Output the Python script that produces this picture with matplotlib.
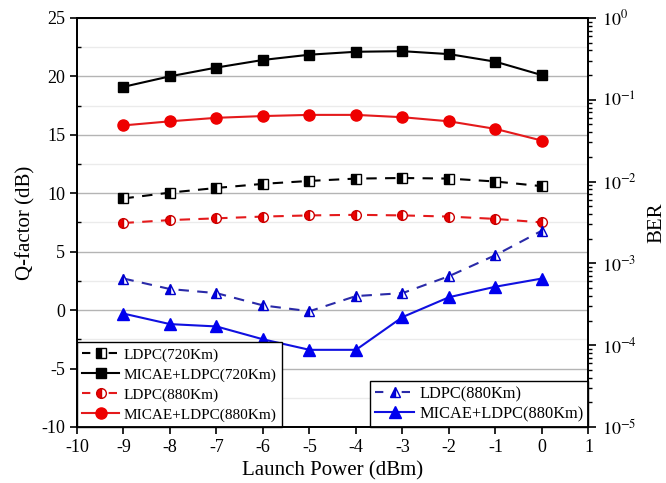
import matplotlib
matplotlib.use("Agg")
import matplotlib.pyplot as plt
from matplotlib.lines import Line2D
from matplotlib.ticker import MultipleLocator, LogLocator, NullFormatter, FixedLocator

plt.rcParams['font.family'] = ['Liberation Serif', 'DejaVu Serif']
plt.rcParams['mathtext.fontset'] = 'stix'
plt.rcParams['axes.unicode_minus'] = False

power = [-9, -8, -7, -6, -5, -4, -3, -2, -1, 0]
ldpc_720 = [9.55, 10.05, 10.45, 10.8, 11.05, 11.25, 11.3, 11.25, 11.0, 10.6]
micae_720 = [19.1, 20.0, 20.75, 21.4, 21.85, 22.1, 22.15, 21.9, 21.25, 20.1]
ldpc_880_red = [7.45, 7.7, 7.85, 8.0, 8.1, 8.15, 8.1, 8.0, 7.8, 7.5]
micae_880_red = [15.8, 16.15, 16.45, 16.6, 16.7, 16.7, 16.5, 16.15, 15.5, 14.5]
ldpc_880_blue = [2.7, 1.8, 1.45, 0.4, -0.1, 1.2, 1.45, 2.9, 4.7, 6.8]
micae_880_blue = [-0.3, -1.2, -1.4, -2.5, -3.4, -3.4, -0.6, 1.1, 2.0, 2.7]

fig = plt.figure(figsize=(6.66, 4.83), dpi=100)
ax = fig.add_axes([0.1156, 0.116, 0.768, 0.847])

ax.set_xlim(-10, 1)
ax.set_ylim(-10, 25)
ax.yaxis.set_major_locator(MultipleLocator(5))
ax.yaxis.set_minor_locator(MultipleLocator(2.5))
ax.xaxis.set_major_locator(MultipleLocator(1))
ax.grid(which='major', axis='y', color='#b4b4b4', linewidth=1.0)
ax.grid(which='minor', axis='y', color='#ebebeb', linewidth=1.0)
ax.set_axisbelow(True)
ax.tick_params(axis='both', which='major', direction='out', length=5, width=1.2, labelsize=13)
ax.tick_params(axis='y', which='minor', direction='in', length=3, width=1.0)
for s in ax.spines.values():
    s.set_linewidth(1.3)

styles = [
    dict(color='black', marker='s', markersize=6.5, fillstyle='left', markerfacecolor='black',
         markerfacecoloralt='white', markeredgecolor='black', markeredgewidth=1.0),
    dict(color='black', marker='s', markersize=7, markerfacecolor='black', markeredgecolor='black'),
    dict(color='#e41a1c', marker='o', markersize=7, fillstyle='left', markerfacecolor='#ee0000',
         markerfacecoloralt='white', markeredgecolor='#cc0000', markeredgewidth=1.0),
    dict(color='#e41a1c', marker='o', markersize=8, markerfacecolor='#ee0000', markeredgecolor='#ee0000'),
    dict(color='#2a2aa8', marker='^', markersize=7.5, fillstyle='left', markerfacecolor='#0000ee',
         markerfacecoloralt='white', markeredgecolor='#0000cc', markeredgewidth=1.0),
    dict(color='#1010e0', marker='^', markersize=8, markerfacecolor='#0000ee', markeredgecolor='#0000ee'),
]
labels = ['LDPC(720Km)', 'MICAE+LDPC(720Km)', 'LDPC(880Km)', 'MICAE+LDPC(880Km)',
          'LDPC(880Km)', 'MICAE+LDPC(880Km)']
series = [ldpc_720, micae_720, ldpc_880_red, micae_880_red, ldpc_880_blue, micae_880_blue]
dashed = [True, False, True, False, True, False]

handles = []
for vals, st, lab, d in zip(series, styles, labels, dashed):
    ls = (0, (5, 4)) if d else '-'
    ax.plot(power, vals, linestyle=ls, linewidth=1.5, **st)
    hls = (0, (4, 8.8)) if d else '-'
    handles.append(Line2D([], [], linestyle=hls, linewidth=1.5, label=lab, **st))

ax.set_xlabel('Launch Power (dBm)', fontsize=15, labelpad=4)
ax.set_ylabel('Q-factor (dB)', fontsize=15)

leg1 = ax.legend(handles=handles[:4], loc='lower left', fontsize=11,
                 frameon=True, fancybox=False, edgecolor='black', framealpha=1,
                 borderaxespad=0.0, handlelength=2.4, handletextpad=0.3,
                 borderpad=0.35, labelspacing=0.4)
leg1.get_frame().set_linewidth(1.0)
ax.add_artist(leg1)
leg2 = ax.legend(handles=handles[4:], loc='lower right', fontsize=11.8,
                 frameon=True, fancybox=False, edgecolor='black', framealpha=1,
                 borderaxespad=0.0, handlelength=2.4, handletextpad=0.3,
                 borderpad=0.3, labelspacing=0.25)
leg2.get_frame().set_linewidth(1.0)

ax2 = ax.twinx()
ax2.set_yscale('log')
ax2.set_ylim(1e-5, 1)
ber_ticks = [1e-5, 1e-4, 1e-3, 1e-2, 1e-1, 1e0]
ber_labels = ['$10^{-5}$', '$10^{-4}$', '$10^{-3}$', '$10^{-2}$', '$10^{-1}$', '$10^{0}$']
ax2.yaxis.set_major_locator(FixedLocator(ber_ticks))
ax2.set_yticklabels(ber_labels)
ax2.yaxis.set_minor_locator(LogLocator(base=10, subs=[2, 3, 4, 5, 6, 7, 8, 9]))
ax2.yaxis.set_minor_formatter(NullFormatter())
ax2.tick_params(axis='y', which='major', direction='out', length=6, width=1.2, labelsize=13)
ax2.tick_params(axis='y', which='minor', direction='out', length=3, width=1.0)
ax2.set_ylabel('BER', fontsize=15, labelpad=8)
for s in ax2.spines.values():
    s.set_linewidth(1.3)

fig.savefig('out.png', dpi=100)
